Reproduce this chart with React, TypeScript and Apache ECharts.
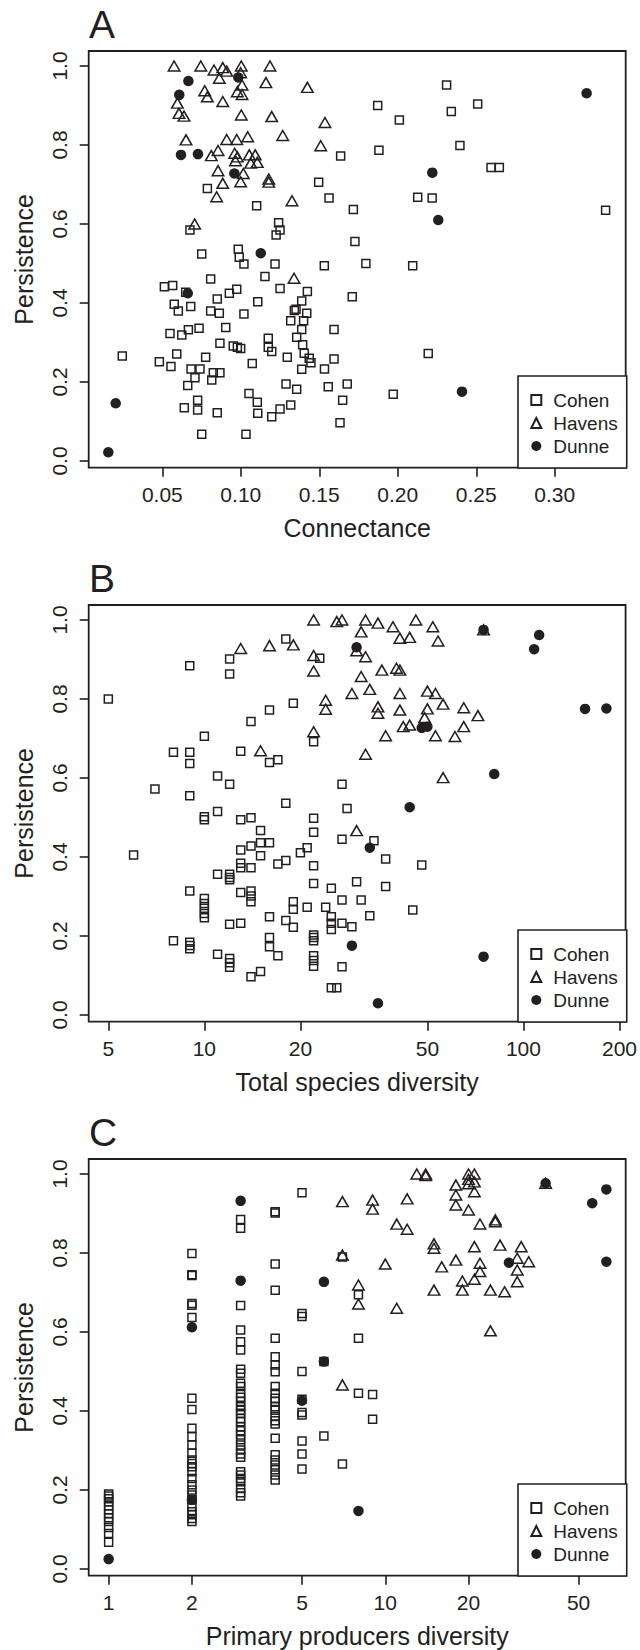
import React, { useEffect, useRef } from 'react';
import * as echarts from 'echarts';

const INK = '#231f20';
const FONT = '"Liberation Sans", Arial, Helvetica, sans-serif';

const panelLetters = ['A', 'B', 'C'];
const xTitles = ['Connectance', 'Total species diversity', 'Primary producers diversity'];
const yTitle = 'Persistence';
const seriesNames = ['Cohen', 'Havens', 'Dunne'];
const yTicks = [0, 0.2, 0.4, 0.6, 0.8, 1.0];
const xTicksA = [0.05, 0.1, 0.15, 0.2, 0.25, 0.3];
const xTicksB = [5, 10, 20, 50, 100, 200];
const xTicksC = [1, 2, 5, 10, 20, 50];

// Panel A: connectance vs persistence
const cohenA: number[][] = [
  [0.0787, 0.69], [0.1101, 0.646], [0.1496, 0.706], [0.1562, 0.666], [0.0676, 0.585], [0.1241, 0.603],
  [0.125, 0.585], [0.1225, 0.572], [0.0751, 0.524], [0.0984, 0.536], [0.099, 0.516], [0.102, 0.499],
  [0.2311, 0.952], [0.1872, 0.9], [0.2509, 0.904], [0.201, 0.863], [0.2341, 0.885], [0.188, 0.787],
  [0.2396, 0.799], [0.1636, 0.772], [0.2594, 0.743], [0.2647, 0.743], [0.2127, 0.668], [0.2219, 0.666],
  [0.1717, 0.637], [0.3324, 0.635], [0.1727, 0.556], [0.1797, 0.5], [0.1532, 0.494], [0.2095, 0.494],
  [0.171, 0.416], [0.1594, 0.333], [0.2194, 0.272], [0.1594, 0.258], [0.1533, 0.233], [0.1678, 0.195],
  [0.1557, 0.188], [0.1971, 0.169], [0.1649, 0.154], [0.1632, 0.097], [0.1218, 0.499], [0.0808, 0.461],
  [0.1154, 0.467], [0.0513, 0.441], [0.0566, 0.444], [0.0649, 0.427], [0.0974, 0.435], [0.0927, 0.4245],
  [0.125, 0.437], [0.085, 0.41], [0.1108, 0.403], [0.1424, 0.429], [0.1388, 0.405], [0.0576, 0.397],
  [0.0681, 0.391], [0.0602, 0.38], [0.0808, 0.38], [0.0863, 0.374], [0.102, 0.372], [0.1352, 0.384],
  [0.1341, 0.381], [0.142, 0.374], [0.1318, 0.355], [0.14, 0.355], [0.0904, 0.338], [0.0734, 0.336],
  [0.0666, 0.332], [0.0549, 0.323], [0.0624, 0.319], [0.1388, 0.333], [0.1175, 0.311], [0.1356, 0.313],
  [0.0867, 0.298], [0.0952, 0.291], [0.0978, 0.288], [0.0999, 0.285], [0.1394, 0.294], [0.1175, 0.288],
  [0.1197, 0.277], [0.0592, 0.271], [0.0245, 0.266], [0.0776, 0.2625], [0.1296, 0.2625], [0.1404, 0.273],
  [0.1436, 0.26], [0.1447, 0.249], [0.0481, 0.251], [0.0555, 0.239], [0.1073, 0.247], [0.0683, 0.233],
  [0.074, 0.233], [0.1388, 0.232], [0.0708, 0.211], [0.0825, 0.2236], [0.0867, 0.2236], [0.0815, 0.205],
  [0.0662, 0.191], [0.1288, 0.195], [0.1356, 0.1815], [0.1052, 0.171], [0.1105, 0.149], [0.0725, 0.154],
  [0.0725, 0.129], [0.064, 0.135], [0.085, 0.122], [0.1108, 0.1206], [0.1197, 0.112], [0.125, 0.1316],
  [0.1318, 0.142], [0.0751, 0.0675], [0.1033, 0.0675],
];
const havensA: number[][] = [
  [0.0575, 1.0], [0.0745, 1.0], [0.0829, 0.99], [0.0885, 0.996], [0.091, 0.987], [0.0863, 0.969],
  [0.1003, 1.0], [0.0999, 0.983], [0.1186, 1.0], [0.116, 0.958], [0.1424, 0.946], [0.1008, 0.952],
  [0.077, 0.9375], [0.0787, 0.922], [0.0885, 0.91], [0.0978, 0.935], [0.1008, 0.928], [0.0596, 0.906],
  [0.0606, 0.88], [0.0638, 0.873], [0.1003, 0.876], [0.1197, 0.872], [0.1536, 0.857], [0.0651, 0.813],
  [0.091, 0.814], [0.0974, 0.814], [0.1044, 0.821], [0.1267, 0.824], [0.1509, 0.798], [0.0855, 0.786],
  [0.0812, 0.773], [0.0961, 0.779], [0.0978, 0.77], [0.1054, 0.775], [0.1092, 0.775], [0.0966, 0.76],
  [0.1063, 0.754], [0.1105, 0.756], [0.0855, 0.735], [0.1016, 0.728], [0.1178, 0.714], [0.1178, 0.706],
  [0.0885, 0.703], [0.0999, 0.707], [0.0846, 0.669], [0.1326, 0.659], [0.0706, 0.6], [0.1339, 0.4625],
];
const dunneA: number[][] = [
  [0.0666, 0.962], [0.0608, 0.927], [0.0984, 0.971], [0.0619, 0.775], [0.0727, 0.777], [0.0959, 0.728],
  [0.1127, 0.526], [0.3203, 0.931], [0.222, 0.73], [0.2258, 0.61], [0.0662, 0.4245], [0.0203, 0.146],
  [0.0156, 0.022], [0.2409, 0.1755],
];

// Panel B: total species diversity vs persistence
const cohenB: number[][] = [
  [5, 0.8], [9, 0.884], [12, 0.901], [12, 0.863], [18, 0.952], [23, 0.903], [19, 0.789], [16, 0.772],
  [14, 0.743], [10, 0.706], [8, 0.665], [9, 0.665], [9, 0.637], [13, 0.668], [16, 0.639], [17, 0.646],
  [22, 0.692], [11, 0.605], [12, 0.584], [7, 0.572], [9, 0.555], [18, 0.536], [10, 0.502], [10, 0.494],
  [11, 0.515], [13, 0.494], [14, 0.4995], [15, 0.467], [22, 0.498], [22, 0.4625], [27, 0.584], [28, 0.523],
  [27, 0.445], [34, 0.441], [6, 0.405], [13, 0.418], [14, 0.428], [15, 0.436], [16, 0.436], [15, 0.403],
  [13, 0.384], [13, 0.373], [14, 0.373], [17, 0.382], [18, 0.391], [20, 0.411], [21, 0.4235], [22, 0.378],
  [22, 0.333], [11, 0.356], [12, 0.356], [12, 0.348], [12, 0.3425], [9, 0.314], [10, 0.295], [10, 0.2825],
  [10, 0.27], [10, 0.257], [10, 0.246], [13, 0.31], [14, 0.314], [14, 0.301], [14, 0.287], [12, 0.23],
  [13, 0.232], [16, 0.249], [18, 0.239], [19, 0.287], [19, 0.2675], [19, 0.222], [21, 0.2725], [22, 0.2025],
  [22, 0.196], [22, 0.188], [8, 0.188], [9, 0.184], [9, 0.176], [9, 0.168], [16, 0.196], [16, 0.173],
  [17, 0.15], [11, 0.154], [12, 0.143], [12, 0.132], [12, 0.121], [22, 0.15], [22, 0.138], [22, 0.1235],
  [14, 0.097], [15, 0.11], [25, 0.069], [26, 0.069], [37, 0.395], [48, 0.38], [30, 0.3375], [25, 0.321],
  [37, 0.325], [27, 0.291], [31, 0.291], [24, 0.2725], [25, 0.249], [33, 0.2515], [45, 0.266], [25, 0.2325],
  [27, 0.232], [29, 0.2236], [25, 0.2165], [27, 0.122],
];
const havensB: number[][] = [
  [22, 1.0], [13, 0.928], [16, 0.935], [19, 0.937], [22, 0.91], [22, 0.871], [24, 0.797], [24, 0.774],
  [22, 0.717], [15, 0.669], [26, 0.996], [27, 1.0], [32, 1.0], [35, 0.992], [31, 0.97], [39, 0.983],
  [46, 1.0], [52, 0.983], [41, 0.954], [44, 0.956], [54, 0.947], [75, 0.975], [30, 0.922], [32, 0.907],
  [36, 0.873], [40, 0.878], [41, 0.873], [31, 0.857], [29, 0.814], [33, 0.8245], [41, 0.814], [50, 0.82],
  [53, 0.814], [35, 0.78], [35, 0.764], [41, 0.772], [50, 0.775], [56, 0.787], [65, 0.778], [72, 0.758],
  [49, 0.753], [42, 0.73], [44, 0.734], [65, 0.73], [37, 0.707], [53, 0.707], [61, 0.705], [32, 0.66],
  [56, 0.601], [30, 0.4667],
];
const dunneB: number[][] = [
  [30, 0.931], [75, 0.975], [112, 0.962], [108, 0.926], [156, 0.775], [182, 0.776], [48, 0.727],
  [50, 0.73], [81, 0.61], [44, 0.526], [33, 0.4235], [29, 0.1755], [75, 0.1477], [35, 0.0296],
];

// Panel C: primary producers diversity vs persistence
const cohenC: number[][] = [
  [1, 0.19], [1, 0.185], [1, 0.178], [1, 0.17], [1, 0.16], [1, 0.15], [1, 0.14], [1, 0.13], [1, 0.12],
  [1, 0.105], [1, 0.09], [1, 0.068],
  [2, 0.799], [2, 0.743], [2, 0.745], [2, 0.668], [2, 0.672], [2, 0.637], [2, 0.432], [2, 0.404],
  [2, 0.356], [2, 0.335], [2, 0.314], [2, 0.293], [2, 0.276], [2, 0.267], [2, 0.259], [2, 0.246],
  [2, 0.229], [2, 0.213], [2, 0.2], [2, 0.187], [2, 0.175], [2, 0.158], [2, 0.145], [2, 0.137],
  [2, 0.128], [2, 0.12],
  [3, 0.885], [3, 0.8625], [3, 0.667], [3, 0.605], [3, 0.5755], [3, 0.5545], [3, 0.5055], [3, 0.4954],
  [3, 0.47], [3, 0.462], [3, 0.445], [3, 0.435], [3, 0.424], [3, 0.411], [3, 0.402], [3, 0.394],
  [3, 0.381], [3, 0.373], [3, 0.36], [3, 0.35], [3, 0.339], [3, 0.327], [3, 0.314], [3, 0.301],
  [3, 0.291], [3, 0.283], [3, 0.246], [3, 0.238], [3, 0.229], [3, 0.221], [3, 0.204], [3, 0.193], [3, 0.185],
  [4, 0.9046], [4, 0.901], [4, 0.772], [4, 0.706], [4, 0.584], [4, 0.5375], [4, 0.5165], [4, 0.4995],
  [4, 0.462], [4, 0.445], [4, 0.432], [4, 0.424], [4, 0.411], [4, 0.402], [4, 0.386], [4, 0.375],
  [4, 0.367], [4, 0.331], [4, 0.289], [4, 0.276], [4, 0.263], [4, 0.251], [4, 0.238], [4, 0.225],
  [5, 0.9527], [5, 0.647], [5, 0.639], [5, 0.5], [5, 0.43], [5, 0.396], [5, 0.39], [5, 0.324],
  [5, 0.291], [5, 0.253],
  [6, 0.525], [6, 0.337], [7, 0.79], [7, 0.266], [8, 0.694], [8, 0.584], [8, 0.445], [9, 0.442], [9, 0.379],
];
const havensC: number[][] = [
  [7, 0.93], [7, 0.795], [7, 0.466], [8, 0.719], [8, 0.671], [9, 0.934], [9, 0.911], [10, 0.772],
  [11, 0.66], [11, 0.873], [12, 0.937], [12, 0.86], [13, 1.0], [14, 1.0], [14, 0.996], [15, 0.823],
  [15, 0.812], [15, 0.706], [16, 0.765], [18, 0.972], [18, 0.947], [18, 0.9215], [18, 0.782], [19, 0.729],
  [19, 0.706], [20, 1.0], [20, 0.9865], [20, 0.9755], [20, 0.909], [21, 1.0], [21, 0.98], [21, 0.955],
  [21, 0.816], [21, 0.7335], [22, 0.774], [22, 0.753], [22, 0.8734], [24, 0.706], [24, 0.603], [25, 0.879],
  [25, 0.884], [26, 0.82], [27, 0.702], [30, 0.7866], [30, 0.757], [30, 0.7274], [31, 0.816], [33, 0.778],
  [38, 0.9765],
];
const dunneC: number[][] = [
  [1, 0.025], [2, 0.175], [2, 0.612], [3, 0.932], [3, 0.73], [5, 0.426], [6, 0.727], [6, 0.525],
  [8, 0.147], [28, 0.7755], [38, 0.9765], [56, 0.926], [63, 0.961], [63, 0.778],
];

const panelData = [
  [cohenA, havensA, dunneA],
  [cohenB, havensB, dunneB],
  [cohenC, havensC, dunneC],
];

export default function App() {
  const ref = useRef<HTMLDivElement>(null);

  useEffect(() => {
    if (!ref.current) return;
    const chart = echarts.init(ref.current, null, { renderer: 'svg' });

    const gridTops = [51, 605, 1159];
    const legendTops = [376, 930, 1484];
    const letterTops = [5, 559, 1113];
    const gridLeft = 88.7;
    const gridWidth = 537;
    const gridHeight = 416.7;

    const tickStyle = { show: true, length: 9, lineStyle: { color: INK, width: 1.6 } };
    const labelText = { fontSize: 21, color: INK, fontFamily: FONT };
    const nameText = { fontSize: 25, color: INK, fontFamily: FONT };

    const xAxes = [
      {
        type: 'value', min: 0.0031, max: 0.3452, ticks: xTicksA,
        fmt: (v: number) => v.toFixed(2),
      },
      {
        type: 'log', logBase: 10, min: 4.34, max: 209, ticks: xTicksB,
        fmt: (v: number) => String(Math.round(v)),
      },
      {
        type: 'log', logBase: 10, min: 0.847, max: 74, ticks: xTicksC,
        fmt: (v: number) => String(Math.round(v)),
      },
    ].map((a, i) => ({
      gridIndex: i,
      type: a.type,
      logBase: (a as any).logBase,
      min: a.min,
      max: a.max,
      axisLine: { show: false, onZero: false },
      splitLine: { show: false },
      axisTick: { ...tickStyle, customValues: a.ticks },
      axisLabel: { ...labelText, margin: 16, customValues: a.ticks, formatter: a.fmt },
      name: xTitles[i],
      nameLocation: 'middle',
      nameGap: 48,
      nameTextStyle: nameText,
    }));

    const yAxes = [0, 1, 2].map((i) => ({
      gridIndex: i,
      type: 'value',
      min: -0.017,
      max: 1.038,
      axisLine: { show: false, onZero: false },
      splitLine: { show: false },
      axisTick: { ...tickStyle, customValues: yTicks },
      axisLabel: {
        ...labelText,
        rotate: 90,
        margin: 19,
        customValues: yTicks,
        formatter: (v: number) => v.toFixed(1),
      },
      name: yTitle,
      nameLocation: 'middle',
      nameGap: 52,
      nameTextStyle: nameText,
    }));

    const hollow = { color: 'rgba(0,0,0,0)', borderColor: INK, borderWidth: 1.5, opacity: 1 };
    const series: any[] = [];
    panelData.forEach((sets, i) => {
      series.push({
        type: 'scatter', name: seriesNames[0], xAxisIndex: i, yAxisIndex: i, data: sets[0],
        symbol: 'rect', symbolSize: 8,
        itemStyle: hollow,
        silent: true, z: 2,
      });
      series.push({
        type: 'scatter', name: seriesNames[1], xAxisIndex: i, yAxisIndex: i, data: sets[1],
        symbol: 'triangle', symbolSize: [11.5, 10],
        itemStyle: hollow,
        silent: true, z: 3,
      });
      series.push({
        type: 'scatter', name: seriesNames[2], xAxisIndex: i, yAxisIndex: i, data: sets[2],
        symbol: 'circle', symbolSize: 10.5,
        itemStyle: { color: INK, borderWidth: 0, opacity: 1 },
        silent: true, z: 4,
      });
    });

    const option: any = {
      animation: false,
      title: panelLetters.map((t, i) => ({
        text: t, left: 89, top: letterTops[i], padding: 0,
        textStyle: { fontSize: 39, fontWeight: 'normal', color: INK, fontFamily: FONT },
      })),
      grid: gridTops.map((top) => ({
        left: gridLeft, top, width: gridWidth, height: gridHeight,
        show: true, borderColor: INK, borderWidth: 1.8, backgroundColor: 'transparent',
      })),
      xAxis: xAxes,
      yAxis: yAxes,
      legend: legendTops.map((top) => ({
        orient: 'vertical',
        left: 518,
        top,
        data: seriesNames,
        itemWidth: 10,
        itemHeight: 10,
        itemGap: 4,
        padding: [14.5, 9, 12.5, 12.3],
        borderColor: INK,
        borderWidth: 1.6,
        borderRadius: 0,
        backgroundColor: '#fff',
        selectedMode: false,
        textStyle: { fontSize: 19, color: INK, fontFamily: FONT, padding: [0, 0, 0, 7] },
      })),
      series,
    };

    chart.setOption(option);
    return () => chart.dispose();
  }, []);

  return (
    <div
      ref={ref}
      style={{ position: 'absolute', left: 0, top: 0, width: 640, height: 1650, background: '#fff' }}
    />
  );
}
